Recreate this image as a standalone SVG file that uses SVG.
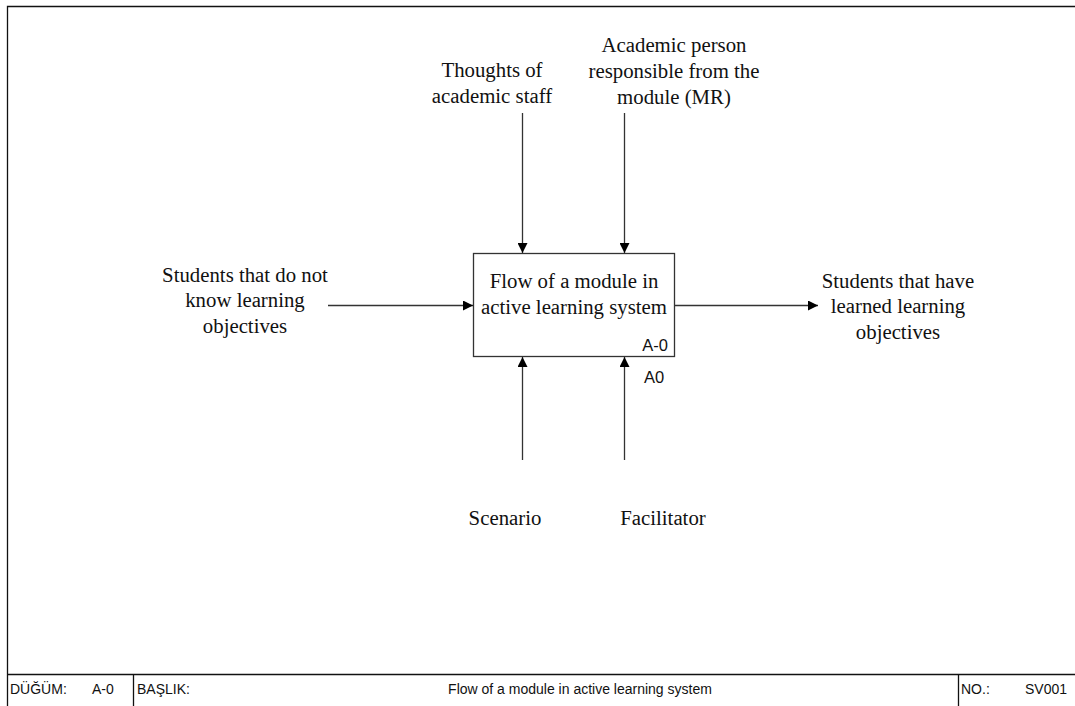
<svg xmlns="http://www.w3.org/2000/svg" width="1075" height="706" viewBox="0 0 1075 706">
<style>
.serif{font-family:"Liberation Serif","Times New Roman",serif;font-size:20.8px;fill:#111;text-anchor:middle}
.sans{font-family:"Liberation Sans",Arial,sans-serif;font-size:14px;fill:#111}
.tag{font-family:"Liberation Sans",Arial,sans-serif;font-size:16.5px;fill:#111}
.ln{stroke:#333;stroke-width:1.3;fill:none}
.frame{stroke:#111;stroke-width:1.3;fill:none}
</style>
<defs>
<marker id="ah" viewBox="0 0 10 10" refX="10" refY="5" markerWidth="10" markerHeight="10" markerUnits="userSpaceOnUse" orient="auto">
<path d="M0,0 L10,5 L0,10 Z" fill="#000"/>
</marker>
</defs>
<rect width="1075" height="706" fill="#fff"/>
<g id="frame">
<path class="frame" d="M1080,6.5 H7.5 V710"/>
<path class="frame" d="M7.5,674.5 H1080"/>
<path class="frame" d="M133.5,674.5 V710 M958.5,674.5 V710"/>
<text class="sans" x="10" y="694">DÜĞÜM:</text>
<text class="sans" x="92" y="694">A-0</text>
<text class="sans" x="137" y="694">BAŞLIK:</text>
<text class="sans" x="580" y="694" text-anchor="middle">Flow of a module in active learning system</text>
<text class="sans" x="961" y="694">NO.:</text>
<text class="sans" x="1025" y="694">SV001</text>
</g>
<g id="node-A0">
<rect x="473.5" y="253.5" width="201" height="103" fill="#fff" stroke="#333" stroke-width="1.3"/>
<text class="serif" x="574" y="288">Flow of a module in</text>
<text class="serif" x="574" y="314">active learning system</text>
<text class="tag" x="668" y="351" text-anchor="end">A-0</text>
<text class="tag" x="644" y="383">A0</text>
</g>
<g id="connectors">
<line class="ln" x1="522.5" y1="113" x2="522.5" y2="253" marker-end="url(#ah)"/>
<line class="ln" x1="624.5" y1="113" x2="624.5" y2="253" marker-end="url(#ah)"/>
<line class="ln" x1="522.5" y1="460" x2="522.5" y2="357" marker-end="url(#ah)"/>
<line class="ln" x1="624.5" y1="460" x2="624.5" y2="357" marker-end="url(#ah)"/>
<line class="ln" x1="328" y1="305.5" x2="473" y2="305.5" marker-end="url(#ah)"/>
<line class="ln" x1="675" y1="305.5" x2="818" y2="305.5" marker-end="url(#ah)"/>
</g>
<g id="label-input">
<text class="serif" x="245" y="282">Students that do not</text>
<text class="serif" x="245" y="307">know learning</text>
<text class="serif" x="245" y="333">objectives</text>
</g>
<g id="label-output">
<text class="serif" x="898" y="288">Students that have</text>
<text class="serif" x="898" y="313">learned learning</text>
<text class="serif" x="898" y="339">objectives</text>
</g>
<g id="label-control1">
<text class="serif" x="492" y="77">Thoughts of</text>
<text class="serif" x="492" y="103">academic staff</text>
</g>
<g id="label-control2">
<text class="serif" x="674" y="52">Academic person</text>
<text class="serif" x="674" y="78">responsible from the</text>
<text class="serif" x="674" y="104">module (MR)</text>
</g>
<g id="label-mech1">
<text class="serif" x="505" y="525">Scenario</text>
</g>
<g id="label-mech2">
<text class="serif" x="663" y="525">Facilitator</text>
</g>
</svg>
